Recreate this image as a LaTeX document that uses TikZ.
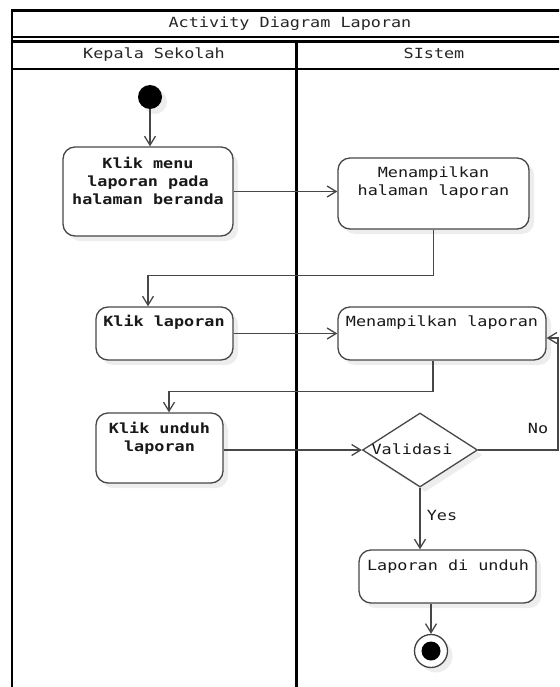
\documentclass[tikz,border=0pt]{standalone}
\usepackage{fontspec}
\newfontfamily\dmono[FakeStretch=1.2]{DejaVu Sans Mono}
\usetikzlibrary{arrows.meta,shapes.geometric,shadows}
\begin{document}
\begin{tikzpicture}[x=1pt,y=-1pt,
 lane/.style={line width=2.4pt, draw=black},
 hdr/.style={font=\dmono\fontsize{14pt}{18pt}\selectfont, text=black!85, inner sep=0, text height=10pt, text depth=3pt},
 shd/.style={drop shadow={shadow xshift=5pt, shadow yshift=-5pt, fill=black!7, opacity=1}},
 act/.style={shd, draw=black!72, line width=1.3pt, rounded corners=12pt, fill=white, inner sep=0},
 dia/.style={shd, diamond, draw=black!72, line width=1.3pt, fill=white, inner sep=0},
 txt/.style={font=\dmono\fontsize{14pt}{18pt}\selectfont, text=black!90, inner sep=0, align=center},
 btxt/.style={txt, font=\dmono\bfseries\fontsize{14pt}{18pt}\selectfont},
 one/.style={text height=10pt, text depth=3pt},
 flow/.style={draw=black!72, line width=1.3pt, -{Straight Barb[length=9pt,width=11pt,line width=1.3pt]}},
]
\useasboundingbox (0,0) rectangle (559,687);
\begin{scope}
\clip (0,0) rectangle (559,687);
\draw[lane] (11.7,700) -- (11.7,10.7) -- (580,10.7);
\draw[lane] (11.7,37.3) -- (580,37.3);
\draw[lane] (11.7,41.7) -- (580,41.7);
\draw[lane] (11.7,69.3) -- (580,69.3);
\draw[lane] (296.5,41.7) -- (296.5,700);
\end{scope}
\node[hdr] (title) at (290,24) {Activity Diagram Laporan};
\node[hdr] (h1) at (154,55.5) {Kepala Sekolah};
\node[hdr] (h2) at (434,55.5) {SIstem};

% start
\node[shd, circle, fill=black, minimum size=24pt, inner sep=0] (start) at (150,97) {};

% activities
\node[act, minimum width=170pt, minimum height=89pt] (b1) at (148,191.5) {};
\node[act, minimum width=191pt, minimum height=71pt] (b2) at (433.5,193.5) {};
\node[act, minimum width=137pt, minimum height=53pt] (b3) at (164.5,333.5) {};
\node[act, minimum width=208pt, minimum height=53pt] (b4) at (442,333.5) {};
\node[act, minimum width=127pt, minimum height=70pt] (b5) at (159.5,448) {};
\node[dia, minimum width=115pt, minimum height=74pt] (v) at (420,450) {};
\node[act, minimum width=177pt, minimum height=53pt] (b6) at (447.5,576.5) {};

% end
\node[shd, circle, draw=black!75, line width=1.3pt, fill=white, minimum size=33pt, inner sep=0] (end) at (431,651) {};
\node[circle, fill=black, minimum size=19pt, inner sep=0] (endin) at (end) {};

% texts
\node[btxt] (t1) at (148,181) {Klik menu\\laporan pada\\halaman beranda};
\node[txt] (t2) at (433.5,183) {Menampilkan\\halaman laporan};
\node[btxt, one] (t3) at (164,323) {Klik laporan};
\node[txt, one] (t4) at (442,323) {Menampilkan laporan};
\node[btxt] (t5) at (159.5,438) {Klik unduh\\laporan};
\node[txt, one] (tv) at (412,451) {Validasi};
\node[txt, one] (t6) at (448,567) {Laporan di unduh};
\node[txt, one] (no) at (538,430) {No};
\node[txt, one] (yes) at (442,517) {Yes};

% connectors
\draw[flow] (start) -- (start |- b1.north);
\draw[flow] (b1.east) -- (b1.east -| b2.west);
\draw[flow] (b2.south) -- ++(0,46) -| ([xshift=-16.5pt]b3.north);
\draw[flow] (b3.east) -- (b3.east -| b4.west);
\draw[flow] ([xshift=-9pt]b4.south) -- ++(0,31) -| ([xshift=9.5pt]b5.north);
\draw[flow] (b5.east |- v.west) -- (v.west);
\coordinate (nr) at (558,338);
\draw[flow] (v.east) -| (nr) -- (nr -| b4.east);
\draw[flow] (v.south) -- (v.south |- b6.north);
\draw[flow] (b6.south -| end) -- (end.north);
\end{tikzpicture}
\end{document}
